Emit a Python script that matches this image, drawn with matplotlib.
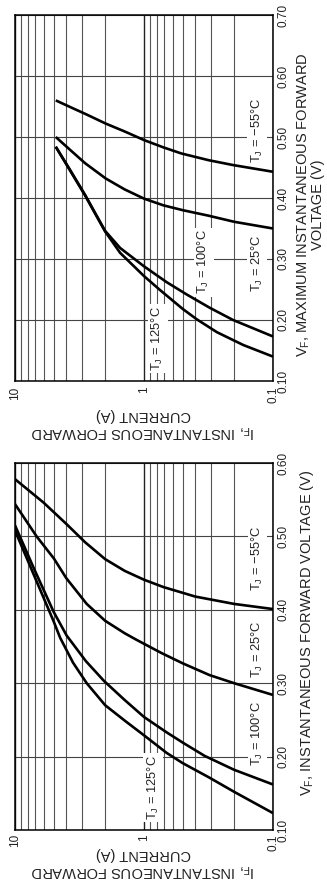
import matplotlib
matplotlib.use("Agg")
import matplotlib.pyplot as plt
from matplotlib.ticker import FixedLocator, NullFormatter

plt.rcParams['font.family'] = ['Liberation Sans', 'DejaVu Sans']
plt.rcParams['mathtext.fontset'] = 'custom'
plt.rcParams['mathtext.rm'] = 'Liberation Sans'

# --- Upper chart: maximum forward voltage (current in A, voltage in V) ---
max_i_125 = [4.83, 3.79, 2.86, 2.40, 2.0, 1.53, 1.0, 0.75, 0.5, 0.389, 0.272, 0.17, 0.1]
max_v_125 = [0.484, 0.447, 0.404, 0.375, 0.345, 0.310, 0.272, 0.249, 0.218, 0.201, 0.180, 0.159, 0.140]
max_i_100 = [4.83, 3.79, 2.86, 2.40, 2.0, 1.53, 1.0, 0.667, 0.468, 0.309, 0.204, 0.1]
max_v_100 = [0.484, 0.448, 0.405, 0.376, 0.346, 0.318, 0.288, 0.262, 0.242, 0.220, 0.200, 0.173]
max_i_25 = [4.83, 3.79, 2.86, 1.98, 1.41, 1.0, 0.708, 0.5, 0.316, 0.2, 0.1]
max_v_25 = [0.500, 0.480, 0.457, 0.432, 0.414, 0.399, 0.388, 0.380, 0.371, 0.361, 0.350]
max_i_m55 = [4.83, 3.55, 2.86, 1.98, 1.41, 1.0, 0.708, 0.513, 0.316, 0.204, 0.1]
max_v_m55 = [0.560, 0.547, 0.538, 0.522, 0.509, 0.495, 0.483, 0.473, 0.462, 0.454, 0.443]

# --- Lower chart: typical forward voltage ---
typ_i_125 = [10, 7.08, 5.01, 4.47, 3.55, 2.78, 2.0, 1.41, 1.0, 0.667, 0.5, 0.316, 0.2, 0.1]
typ_v_125 = [0.508, 0.446, 0.384, 0.362, 0.328, 0.300, 0.270, 0.249, 0.229, 0.205, 0.191, 0.172, 0.152, 0.123]
typ_i_100 = [10, 7.08, 5.01, 3.98, 2.82, 2.04, 1.41, 1.0, 0.667, 0.5, 0.339, 0.2, 0.1]
typ_v_100 = [0.515, 0.455, 0.397, 0.365, 0.330, 0.303, 0.277, 0.254, 0.233, 0.219, 0.201, 0.182, 0.162]
typ_i_25 = [10, 6.8, 5.0, 4.0, 2.78, 2.0, 1.41, 1.14, 0.73, 0.5, 0.31, 0.2, 0.1]
typ_v_25 = [0.544, 0.500, 0.470, 0.443, 0.408, 0.385, 0.368, 0.359, 0.341, 0.327, 0.311, 0.300, 0.284]
typ_i_m55 = [10, 6.0, 4.0, 2.86, 2.0, 1.41, 1.0, 0.708, 0.4, 0.2, 0.1]
typ_v_m55 = [0.578, 0.546, 0.517, 0.492, 0.469, 0.453, 0.441, 0.431, 0.418, 0.408, 0.401]

current_ticks = [10, 1, 0.1]
current_labels = ['10', '1', '0.1']
max_volt_ticks = [0.10, 0.20, 0.30, 0.40, 0.50, 0.60, 0.70]
typ_volt_ticks = [0.10, 0.20, 0.30, 0.40, 0.50, 0.60]

labels = [r'T$_\mathregular{J}$ = 125°C', r'T$_\mathregular{J}$ = 100°C',
          r'T$_\mathregular{J}$ = 25°C', r'T$_\mathregular{J}$ = −55°C']

W, H = 327, 886


def fx(x):
    return x / W


def fy(y):
    return 1 - y / H


def setup(ax, vticks, xpad):
    ax.set_xscale('log')
    ax.set_xlim(10, 0.1)
    ax.set_ylim(vticks[0], vticks[-1])
    ax.xaxis.set_major_locator(FixedLocator(current_ticks))
    ax.set_xticklabels(current_labels)
    minors = [m * d for d in (0.1, 1) for m in range(2, 10)]
    ax.xaxis.set_minor_locator(FixedLocator(minors))
    ax.xaxis.set_minor_formatter(NullFormatter())
    ax.yaxis.set_major_locator(FixedLocator(vticks))
    ax.set_yticklabels(['%.2f' % v for v in vticks])
    ax.yaxis.tick_right()
    ax.tick_params(which='both', length=0, labelsize=8.5, labelcolor='#222222')
    ax.tick_params(axis='x', labelrotation=90, pad=xpad)
    ax.tick_params(axis='y', labelrotation=90, pad=3)
    for t in ax.get_yticklabels():
        t.set_va('center')
        t.set_ha('left')
    ax.grid(True, which='major', axis='x', color='#222222', lw=1.0, zorder=0)
    ax.grid(True, which='minor', axis='x', color='#555555', lw=0.8, zorder=0)
    ax.grid(True, which='major', axis='y', color='#444444', lw=0.8, zorder=0)
    for s in ax.spines.values():
        s.set_linewidth(1.1)


def curve_label(ax, i, v, txt):
    ax.text(i, v, txt, rotation=90, ha='center', va='center', fontsize=9.3,
            color='#222222', zorder=3,
            bbox=dict(facecolor='white', edgecolor='none', pad=1.5))


def draw_curves(ax, series):
    for i, v in series:
        ax.plot(i, v, color='black', lw=1.9, zorder=4,
                solid_joinstyle='round', solid_capstyle='butt')


fig = plt.figure(figsize=(W / 100, H / 100), dpi=100)

# upper chart
ax1 = fig.add_axes([fx(15), fy(381), 258 / W, 366 / H])
setup(ax1, max_volt_ticks, 4)
draw_curves(ax1, [(max_i_125, max_v_125), (max_i_100, max_v_100),
                  (max_i_25, max_v_25), (max_i_m55, max_v_m55)])
curve_label(ax1, 0.78, 0.170, labels[0])
curve_label(ax1, 0.343, 0.295, labels[1])
curve_label(ax1, 0.133, 0.294, labels[2])
curve_label(ax1, 0.133, 0.511, labels[3])
fig.text(fx(310), fy(205), 'V$_\\mathregular{F}$, MAXIMUM INSTANTANEOUS FORWARD\nVOLTAGE (V)',
         rotation=90, ha='center', va='center', fontsize=10.5, linespacing=0.9,
         color='#222222')
fig.text(fx(143), fy(424), 'I$_\\mathregular{F}$, INSTANTANEOUS FORWARD\nCURRENT (A)',
         rotation=180, ha='center', va='center', fontsize=10.5, linespacing=1.15,
         color='#222222')

# lower chart
ax2 = fig.add_axes([fx(15), fy(830), 258 / W, 367 / H])
setup(ax2, typ_volt_ticks, 3)
draw_curves(ax2, [(typ_i_125, typ_v_125), (typ_i_100, typ_v_100),
                  (typ_i_25, typ_v_25), (typ_i_m55, typ_v_m55)])
curve_label(ax2, 0.85, 0.158, labels[0])
curve_label(ax2, 0.131, 0.231, labels[1])
curve_label(ax2, 0.131, 0.347, labels[2])
curve_label(ax2, 0.131, 0.470, labels[3])
fig.text(fx(307), fy(633), 'V$_\\mathregular{F}$, INSTANTANEOUS FORWARD VOLTAGE (V)',
         rotation=90, ha='center', va='center', fontsize=10.5, color='#222222')
fig.text(fx(143), fy(863), 'I$_\\mathregular{F}$, INSTANTANEOUS FORWARD\nCURRENT (A)',
         rotation=180, ha='center', va='center', fontsize=10.5, linespacing=1.15,
         color='#222222')

fig.savefig('out.png', dpi=100)
